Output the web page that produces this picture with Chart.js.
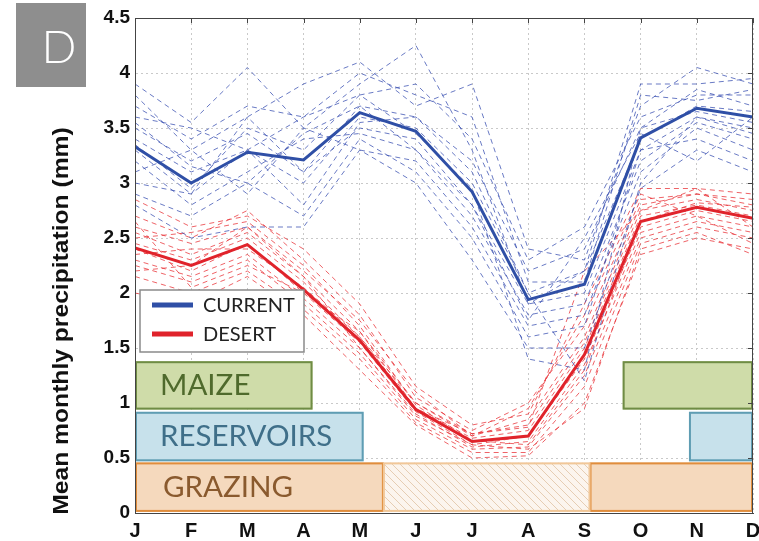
<!DOCTYPE html>
<html>
<head>
<meta charset="utf-8">
<script src="https://cdn.jsdelivr.net/npm/chart.js@4"></script>
<style>
  body { margin: 0; background: #fff; }
  canvas { display: block; }
</style>
</head>
<body>
<canvas id="chart" width="759" height="541"></canvas>
<script>
// month tick labels
const months = ["J", "F", "M", "A", "M", "J", "J", "A", "S", "O", "N", "D"];
const yTicks = [0, 0.5, 1, 1.5, 2, 2.5, 3, 3.5, 4, 4.5];

// ensemble means
const currentMean = [3.33, 3.0, 3.28, 3.21, 3.64, 3.47, 2.92, 1.94, 2.08, 3.41, 3.68, 3.6];
const desertMean = [2.41, 2.25, 2.44, 2.03, 1.57, 0.94, 0.65, 0.7, 1.44, 2.65, 2.78, 2.68];

// individual members (dashed)
const currentMembers = [
  [3.9, 3.55, 4.05, 3.5, 3.9, 4.25, 3.3, 1.9, 2.2, 3.9, 3.9, 3.95],
  [3.8, 3.3, 3.6, 3.9, 4.1, 3.7, 3.9, 2.4, 2.3, 3.7, 4.05, 3.9],
  [3.6, 3.5, 3.3, 3.6, 3.8, 3.9, 3.4, 2.3, 2.6, 3.6, 3.8, 3.8],
  [3.5, 3.2, 3.45, 3.1, 3.7, 3.6, 3.2, 2.2, 2.4, 3.5, 3.85, 3.7],
  [3.4, 3.1, 3.3, 3.0, 3.6, 3.5, 3.0, 2.0, 2.2, 3.4, 3.7, 3.65],
  [3.3, 2.9, 3.6, 3.1, 3.5, 3.4, 2.8, 1.9, 2.0, 3.3, 3.6, 3.5],
  [3.2, 2.8, 3.1, 3.4, 3.45, 3.3, 2.7, 1.8, 1.9, 3.2, 3.55, 3.4],
  [3.1, 3.3, 2.9, 3.5, 3.3, 3.2, 2.6, 1.7, 1.8, 3.1, 3.5, 3.3],
  [2.9, 2.7, 3.0, 2.7, 3.4, 3.1, 2.5, 1.6, 1.7, 3.3, 3.4, 3.2],
  [2.8, 2.5, 2.6, 2.6, 3.3, 3.0, 2.3, 1.5, 1.5, 2.95, 3.3, 3.1],
  [3.7, 3.4, 3.7, 3.6, 4.0, 3.8, 3.6, 2.1, 2.1, 3.8, 3.75, 3.85],
  [3.35, 2.95, 3.5, 3.3, 3.8, 3.45, 2.95, 1.4, 1.3, 3.5, 3.65, 3.55],
  [3.0, 2.9, 3.3, 2.8, 3.55, 3.6, 3.1, 2.0, 1.2, 3.0, 3.6, 3.45],
  [3.55, 3.15, 3.0, 3.45, 3.7, 3.3, 2.8, 1.75, 2.5, 3.45, 3.2, 3.6]
];
const desertMembers = [
  [2.85, 2.6, 2.7, 2.4, 1.9, 1.15, 0.8, 0.9, 1.9, 2.95, 2.95, 2.9],
  [2.7, 2.5, 2.75, 2.3, 1.8, 1.05, 0.75, 1.0, 1.7, 2.85, 2.9, 2.85],
  [2.6, 2.45, 2.6, 2.2, 1.75, 1.1, 0.7, 0.85, 1.6, 2.8, 2.9, 2.8],
  [2.55, 2.35, 2.55, 2.15, 1.65, 1.0, 0.72, 0.8, 1.55, 2.75, 2.85, 2.75],
  [2.45, 2.3, 2.5, 2.1, 1.6, 0.95, 0.68, 0.75, 1.5, 2.7, 2.8, 2.7],
  [2.4, 2.2, 2.45, 2.0, 1.55, 0.92, 0.62, 0.7, 1.4, 2.6, 2.75, 2.65],
  [2.3, 2.15, 2.35, 1.95, 1.5, 0.9, 0.6, 0.65, 1.35, 2.55, 2.7, 2.6],
  [2.25, 2.1, 2.3, 1.9, 1.45, 0.85, 0.58, 0.6, 1.25, 2.5, 2.65, 2.55],
  [2.15, 2.0, 2.2, 1.85, 1.4, 0.82, 0.55, 0.55, 1.15, 2.45, 2.6, 2.5],
  [2.0, 1.9, 2.15, 1.8, 1.3, 0.8, 0.5, 0.52, 1.0, 2.35, 2.5, 2.4],
  [2.5, 2.55, 2.65, 2.25, 1.7, 0.98, 0.66, 0.62, 1.3, 2.65, 2.82, 2.78],
  [2.35, 2.4, 2.4, 2.05, 1.6, 1.0, 0.7, 0.95, 1.8, 2.9, 2.7, 2.45],
  [2.2, 2.25, 2.6, 2.15, 1.5, 0.88, 0.62, 0.58, 0.95, 2.4, 2.55, 2.35],
  [2.65, 2.05, 2.25, 2.0, 1.65, 0.95, 0.72, 0.78, 2.2, 2.75, 2.95, 2.6]
];

// activity bars: [xStart, xEnd, yBottom, yTop] in month index / mm
const maizeSpans = [[0, 3.16, 0.94, 1.38], [8.68, 11, 0.94, 1.38]];
const reservoirSpans = [[0, 4.07, 0.47, 0.92], [9.86, 11, 0.47, 0.92]];
const grazingSpans = [[0, 4.43, 0.01, 0.46], [8.09, 11, 0.01, 0.46]];
const grazingOffSpan = [4.43, 8.09, 0.01, 0.46];

const BLUE = "#2f4fa6";
const RED = "#e0232b";

const toPoints = (arr) => arr.map((v, i) => ({ x: i, y: v }));

const datasets = [];
currentMembers.forEach((m) => datasets.push({
  data: toPoints(m), borderColor: "rgba(58,80,178,0.85)", borderWidth: 0.9,
  borderDash: [5, 4], pointRadius: 0, order: 2
}));
desertMembers.forEach((m) => datasets.push({
  data: toPoints(m), borderColor: "rgba(232,50,55,0.85)", borderWidth: 0.9,
  borderDash: [5, 4], pointRadius: 0, order: 2
}));
datasets.push({ label: "CURRENT", data: toPoints(currentMean), borderColor: BLUE, borderWidth: 3, pointRadius: 0, order: 0 });
datasets.push({ label: "DESERT", data: toPoints(desertMean), borderColor: RED, borderWidth: 3, pointRadius: 0, order: 0 });

const overlay = {
  id: "overlay",
  afterDatasetsDraw(chart) {
    const { ctx, scales: { x, y }, chartArea: a } = chart;
    const rect = (s) => {
      const x0 = x.getPixelForValue(s[0]), x1 = x.getPixelForValue(s[1]);
      const y0 = y.getPixelForValue(s[3]), y1 = y.getPixelForValue(s[2]);
      return [x0, y0, x1 - x0, y1 - y0];
    };
    const box = (s, fill, stroke) => {
      const r = rect(s);
      ctx.fillStyle = fill;
      ctx.fillRect(...r);
      ctx.strokeStyle = stroke;
      ctx.lineWidth = 2;
      ctx.strokeRect(r[0] + 1, r[1] + 1, r[2] - 2, r[3] - 2);
    };
    ctx.save();
    maizeSpans.forEach((s) => box(s, "#cfdca9", "#6f8c45"));
    reservoirSpans.forEach((s) => box(s, "#c7e1eb", "#5f9db3"));
    grazingSpans.forEach((s) => box(s, "#f5d9bd", "#e08d3c"));

    // hatched grazing gap
    const h = rect(grazingOffSpan);
    ctx.fillStyle = "#fcf5ee";
    ctx.fillRect(...h);
    ctx.save();
    ctx.beginPath();
    ctx.rect(...h);
    ctx.clip();
    ctx.strokeStyle = "#e6cdb3";
    ctx.lineWidth = 1;
    for (let px = h[0] - h[3]; px < h[0] + h[2] + h[3]; px += 8) {
      ctx.beginPath();
      ctx.moveTo(px, h[1]);
      ctx.lineTo(px + h[3], h[1] + h[3]);
      ctx.stroke();
    }
    ctx.restore();
    ctx.strokeStyle = "#f1c798";
    ctx.lineWidth = 2;
    ctx.strokeRect(h[0], h[1] + 1, h[2], h[3] - 2);

    // bar labels
    ctx.font = "29.5px Lato";
    ctx.textBaseline = "middle";
    ctx.textAlign = "left";
    const lx = a.left + 25;
    ctx.fillStyle = "#4f6a2c";
    ctx.fillText("MAIZE", lx, y.getPixelForValue(1.16));
    ctx.fillStyle = "#3f6f89";
    ctx.fillText("RESERVOIRS", lx, y.getPixelForValue(0.695));
    ctx.fillStyle = "#8a5a2e";
    ctx.fillText("GRAZING", lx + 3, y.getPixelForValue(0.235));

    // legend
    ctx.fillStyle = "#fff";
    ctx.fillRect(140, 290, 164, 62);
    ctx.strokeStyle = "#8a8a8a";
    ctx.lineWidth = 1.5;
    ctx.strokeRect(140, 290, 164, 62);
    ctx.lineWidth = 5;
    ctx.strokeStyle = BLUE;
    ctx.beginPath(); ctx.moveTo(152, 305); ctx.lineTo(193, 305); ctx.stroke();
    ctx.strokeStyle = RED;
    ctx.beginPath(); ctx.moveTo(152, 334); ctx.lineTo(193, 334); ctx.stroke();
    ctx.fillStyle = "#222";
    ctx.font = "20px Lato";
    ctx.fillText("CURRENT", 203, 306);
    ctx.fillText("DESERT", 203, 335);

    // frame and inner ticks on top/right
    ctx.strokeStyle = "#444";
    ctx.lineWidth = 1;
    ctx.strokeRect(a.left + 0.5, a.top + 0.5, a.right - a.left - 1, a.bottom - a.top);
    months.forEach((m, i) => {
      const px = Math.round(x.getPixelForValue(i)) + 0.5;
      ctx.beginPath(); ctx.moveTo(px, a.top); ctx.lineTo(px, a.top + 5); ctx.stroke();
    });
    yTicks.forEach((v) => {
      const py = Math.round(y.getPixelForValue(v)) + 0.5;
      ctx.beginPath(); ctx.moveTo(a.right, py); ctx.lineTo(a.right - 5, py); ctx.stroke();
    });
    ctx.restore();
  },
  afterDraw(chart) {
    const { ctx } = chart;
    ctx.save();
    // panel letter
    ctx.fillStyle = "#8e8e8e";
    ctx.fillRect(16, 3, 70, 84);
    ctx.fillStyle = "#fff";
    ctx.font = "300 46px Lato";
    ctx.textAlign = "center";
    ctx.textBaseline = "middle";
    ctx.fillText("D", 59, 48);
    // y axis title
    ctx.translate(62, 321);
    ctx.rotate(-Math.PI / 2);
    ctx.scale(1.12, 1);
    ctx.fillStyle = "#111";
    ctx.font = "bold 22px 'Liberation Sans', Arial";
    ctx.fillText("Mean monthly precipitation (mm)", 0, 0);
    ctx.restore();
  }
};

new Chart(document.getElementById("chart"), {
  type: "line",
  data: { datasets },
  options: {
    responsive: false,
    animation: false,
    events: [],
    layout: { autoPadding: false, padding: { top: 18, right: 6, left: 0, bottom: 0 } },
    plugins: { legend: { display: false }, tooltip: { enabled: false } },
    scales: {
      x: {
        type: "linear", min: 0, max: 11,
        afterFit: (s) => { s.height = 28; s.paddingLeft = 0; s.paddingRight = 0; },
        ticks: {
          stepSize: 1, padding: 6, color: "#111",
          font: { family: "'Liberation Sans', Arial", size: 20, weight: "bold" },
          callback: (v) => months[v]
        },
        grid: { color: "#c9c9c9", drawTicks: false },
        border: { color: "#444", dash: [2, 3] }
      },
      y: {
        min: 0, max: 4.5,
        afterFit: (s) => { s.width = 135; s.paddingTop = 0; s.paddingBottom = 0; },
        ticks: {
          stepSize: 0.5, padding: 5, color: "#111",
          font: { family: "'Liberation Sans', Arial", size: 19, weight: "bold" },
          callback: (v) => String(v)
        },
        grid: { color: "#c9c9c9", drawTicks: false },
        border: { color: "#444", dash: [2, 3] }
      }
    }
  },
  plugins: [overlay]
});
</script>
</body>
</html>
